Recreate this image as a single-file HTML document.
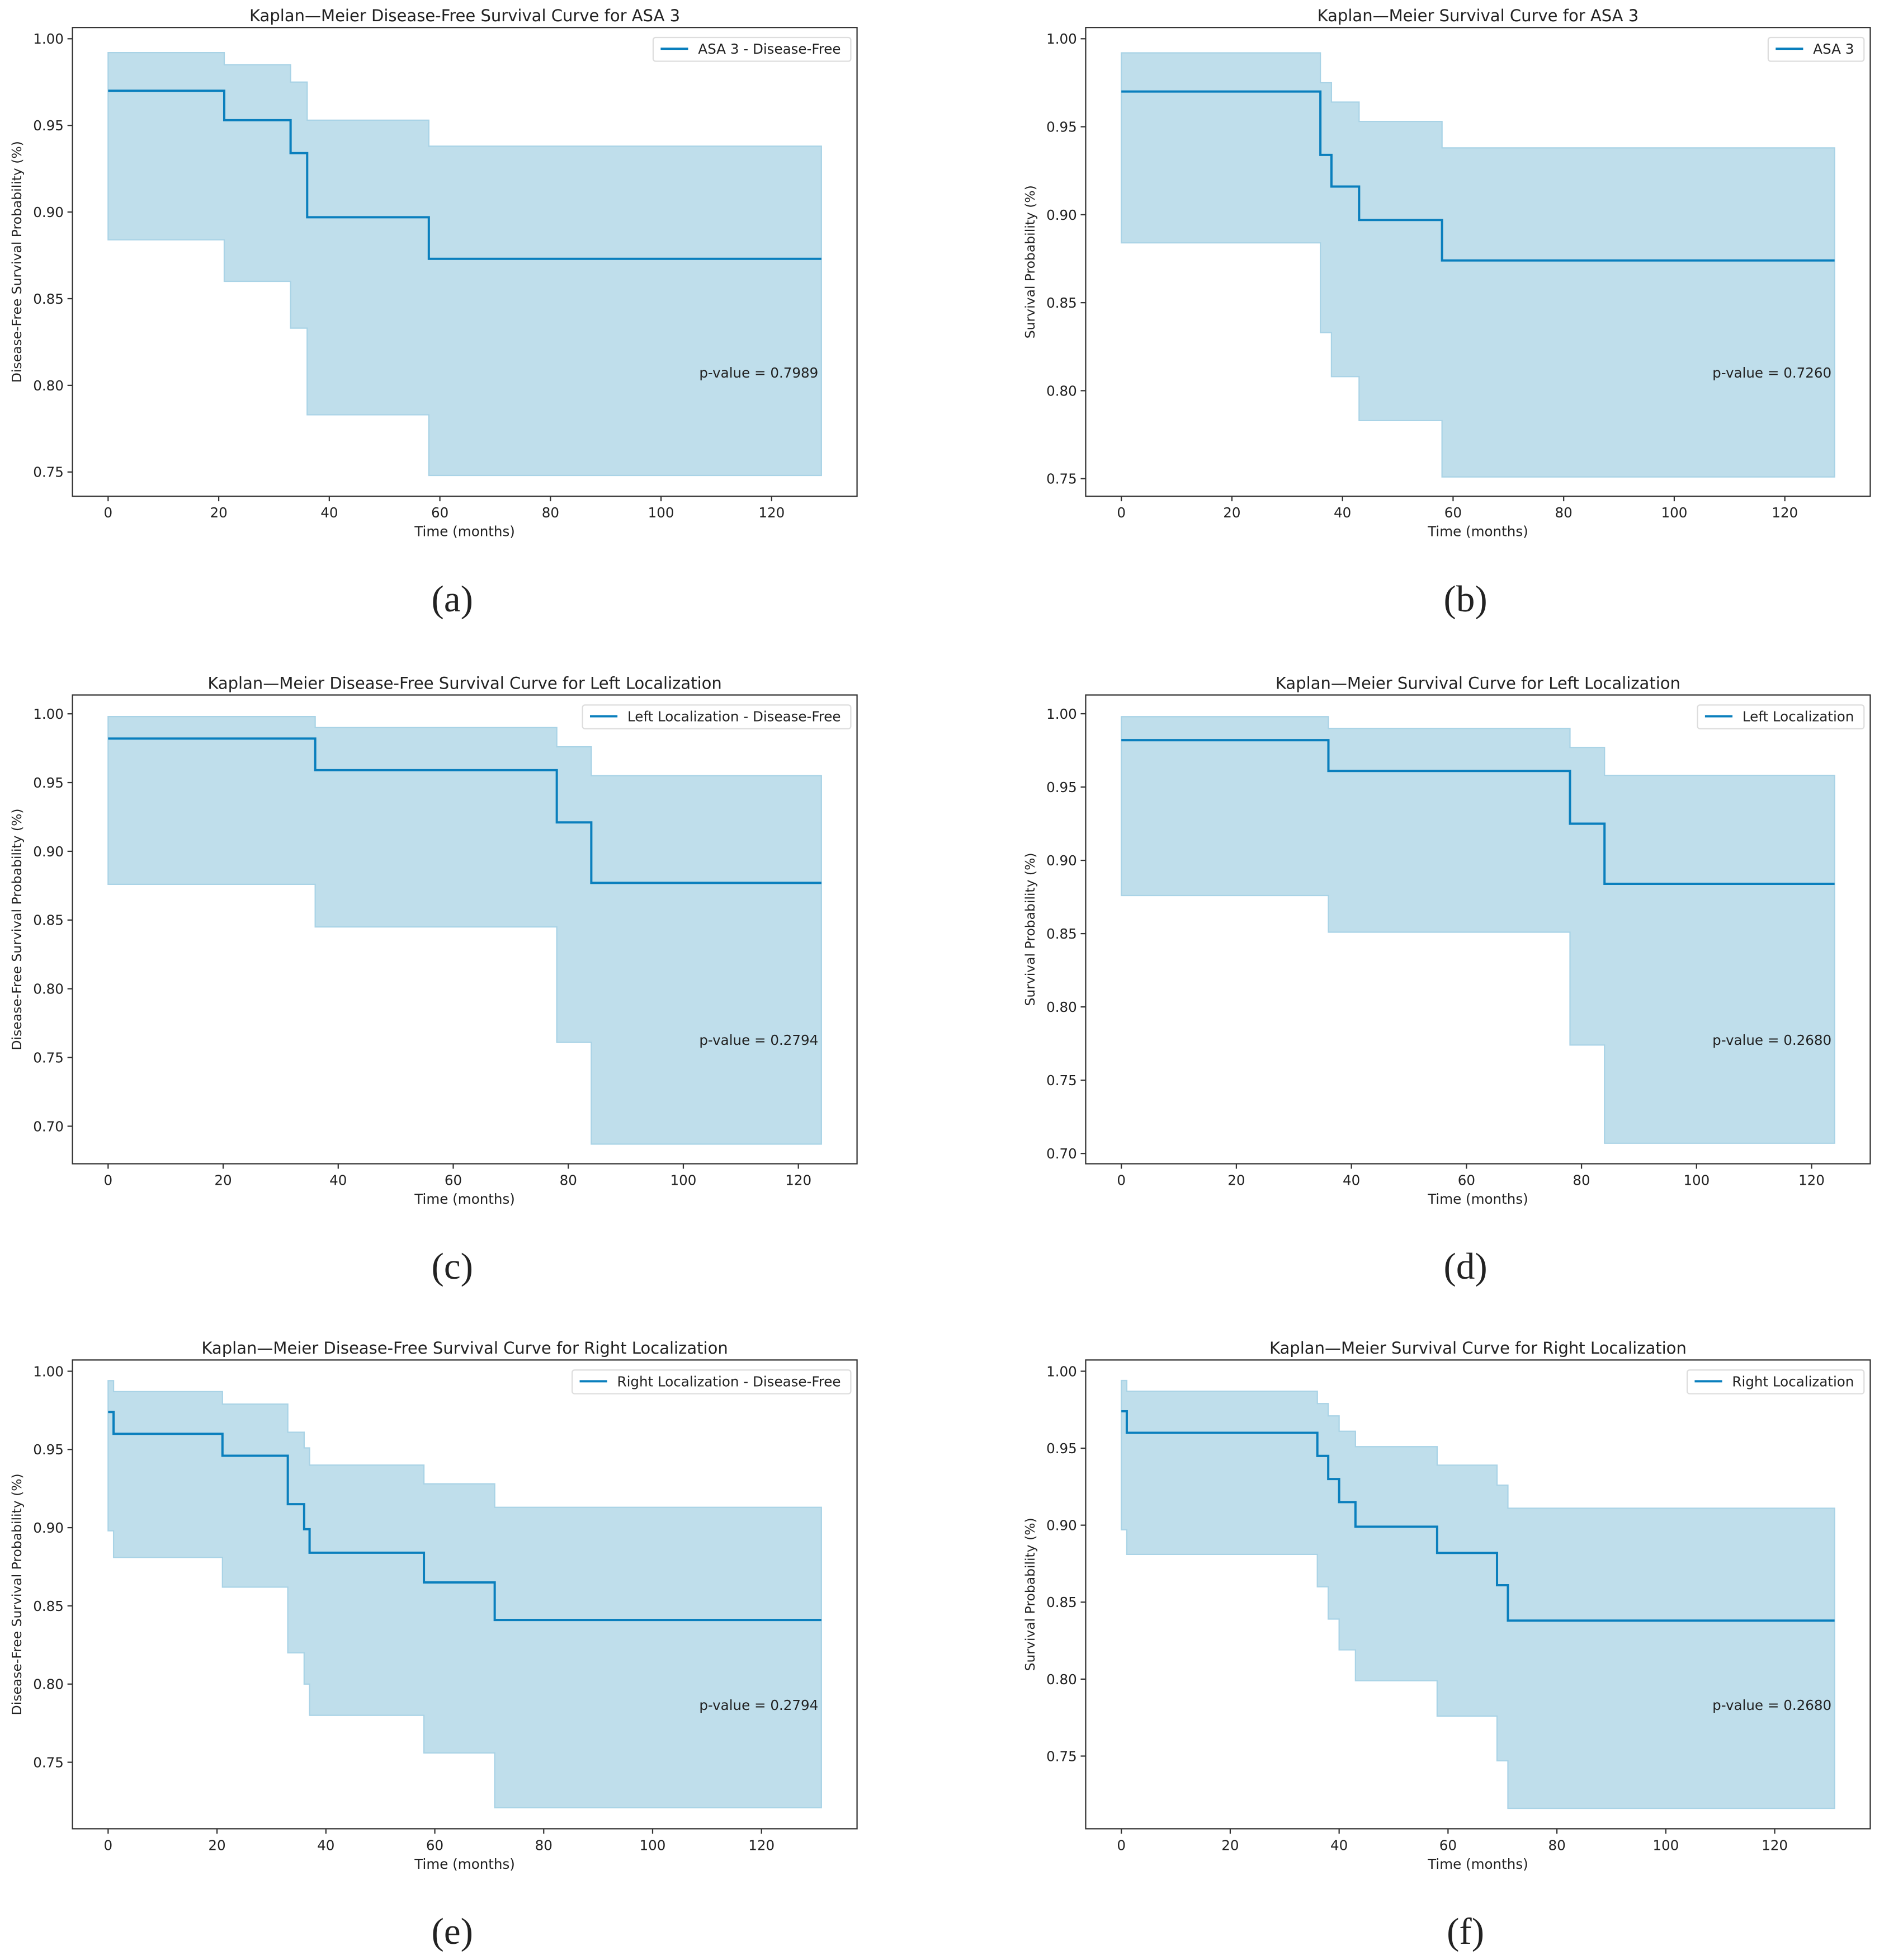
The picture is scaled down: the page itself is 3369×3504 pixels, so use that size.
<!DOCTYPE html>
<html><head><meta charset="utf-8"><style>
html,body{margin:0;padding:0;background:#fff}
svg{display:block}
text{font-family:"DejaVu Sans","Liberation Sans",sans-serif;fill:#222}
</style></head><body>
<svg id="fig" width="3369" height="3504" viewBox="0 0 1508 1568" preserveAspectRatio="none" xmlns="http://www.w3.org/2000/svg"></svg>
<script>
// ---- data ----
const timesA=[0,21,33,36,58,129];
const survA=[0.970,0.953,0.934,0.897,0.873];
const upA=[0.992,0.985,0.975,0.953,0.938];
const loA=[0.884,0.860,0.833,0.783,0.748];

const timesB=[0,36,38,43,58,129];
const survB=[0.970,0.934,0.916,0.897,0.874];
const upB=[0.992,0.975,0.964,0.953,0.938];
const loB=[0.884,0.833,0.808,0.783,0.751];

const timesC=[0,36,78,84,124];
const survC=[0.982,0.959,0.921,0.877];
const upC=[0.998,0.990,0.976,0.955];
const loC=[0.876,0.845,0.761,0.687];

const timesD=[0,36,78,84,124];
const survD=[0.982,0.961,0.925,0.884];
const upD=[0.998,0.990,0.977,0.958];
const loD=[0.876,0.851,0.774,0.707];

const timesE=[0,1,21,33,36,37,58,71,131];
const survE=[0.974,0.960,0.946,0.915,0.899,0.884,0.865,0.841];
const upE=[0.994,0.987,0.979,0.961,0.951,0.940,0.928,0.913];
const loE=[0.898,0.881,0.862,0.820,0.800,0.780,0.756,0.721];

const timesF=[0,1,36,38,40,43,58,69,71,131];
const survF=[0.974,0.960,0.945,0.930,0.915,0.899,0.882,0.861,0.838];
const upF=[0.994,0.987,0.979,0.971,0.961,0.951,0.939,0.926,0.911];
const loF=[0.897,0.881,0.860,0.839,0.819,0.799,0.776,0.747,0.716];

const xTicks=[0,20,40,60,80,100,120];
const yTicksAB=[0.75,0.80,0.85,0.90,0.95,1.00];
const yTicksCD=[0.70,0.75,0.80,0.85,0.90,0.95,1.00];
const yTicksEF=[0.75,0.80,0.85,0.90,0.95,1.00];

const pValues=["0.7989","0.7260","0.2794","0.2680","0.2794","0.2680"];

const panels=[
 {id:'a',x0:58,y0:22,times:timesA,surv:survA,up:upA,lo:loA,ymin:0.736,ymax:1.0065,yt:yTicksAB,title:"Kaplan\u2014Meier Disease-Free Survival Curve for ASA 3",leg:"ASA 3 - Disease-Free",yl:"Disease-Free Survival Probability (%)",p:pValues[0]},
 {id:'b',x0:869,y0:22,times:timesB,surv:survB,up:upB,lo:loB,ymin:0.740,ymax:1.0064,yt:yTicksAB,title:"Kaplan\u2014Meier Survival Curve for ASA 3",leg:"ASA 3",yl:"Survival Probability (%)",p:pValues[1]},
 {id:'c',x0:58,y0:556,times:timesC,surv:survC,up:upC,lo:loC,ymin:0.6727,ymax:1.0137,yt:yTicksCD,title:"Kaplan\u2014Meier Disease-Free Survival Curve for Left Localization",leg:"Left Localization - Disease-Free",yl:"Disease-Free Survival Probability (%)",p:pValues[2]},
 {id:'d',x0:869,y0:556,times:timesD,surv:survD,up:upD,lo:loD,ymin:0.693,ymax:1.0128,yt:yTicksCD,title:"Kaplan\u2014Meier Survival Curve for Left Localization",leg:"Left Localization",yl:"Survival Probability (%)",p:pValues[3]},
 {id:'e',x0:58,y0:1088,times:timesE,surv:survE,up:upE,lo:loE,ymin:0.7075,ymax:1.0072,yt:yTicksEF,title:"Kaplan\u2014Meier Disease-Free Survival Curve for Right Localization",leg:"Right Localization - Disease-Free",yl:"Disease-Free Survival Probability (%)",p:pValues[4]},
 {id:'f',x0:869,y0:1088,times:timesF,surv:survF,up:upF,lo:loF,ymin:0.7028,ymax:1.0073,yt:yTicksEF,title:"Kaplan\u2014Meier Survival Curve for Right Localization",leg:"Right Localization",yl:"Survival Probability (%)",p:pValues[5]}
];
const W=628,H=375,NS='http://www.w3.org/2000/svg';
const svg=document.getElementById('fig');
function mk(tag,attrs,parent){const e=document.createElementNS(NS,tag);for(const k in attrs)e.setAttribute(k,attrs[k]);(parent||svg).appendChild(e);return e;}
function stepPath(times,vals,sx,sy){let d='';for(let i=0;i<vals.length;i++){const xa=sx(times[i]),xb=sx(times[i+1]),y=sy(vals[i]);d+=(i===0?'M':'L')+xa+','+y+' L'+xb+','+y+' ';}return d;}
panels.forEach(P=>{
 const g=mk('g',{});
 
 
 const tmax=P.times[P.times.length-1];
 const xmin=-0.05*tmax,xmax=1.05*tmax;
 const sx=t=>P.x0+(t-xmin)/(xmax-xmin)*W;
 const sy=v=>P.y0+(P.ymax-v)/(P.ymax-P.ymin)*H;
 let top=[],bot=[];
 for(let i=0;i<P.up.length;i++){top.push(sx(P.times[i])+','+sy(P.up[i]),sx(P.times[i+1])+','+sy(P.up[i]));bot.push(sx(P.times[i])+','+sy(P.lo[i]),sx(P.times[i+1])+','+sy(P.lo[i]));}
 const band=mk('polygon',{points:top.concat(bot.reverse()).join(' '),fill:'#bfdeeb',stroke:'#a9d3e6','stroke-width':1},g);
 
 
 const line=mk('path',{d:stepPath(P.times,P.surv,sx,sy),fill:'none',stroke:'#0a7fbd','stroke-width':1.8},g);
 
 
 const fr=mk('rect',{x:P.x0,y:P.y0,width:W,height:H,fill:'none',stroke:'#333','stroke-width':1},g);
 
 
 xTicks.forEach(t=>{const x=sx(t);mk('line',{x1:x,x2:x,y1:P.y0+H,y2:P.y0+H+4,stroke:'#333'},g);
  const tx=mk('text',{x:x,y:P.y0+H+17,'font-size':11,'text-anchor':'middle'},g);tx.textContent=t;
  
  });
 P.yt.forEach(v=>{const y=sy(v);mk('line',{x1:P.x0-4,x2:P.x0,y1:y,y2:y,stroke:'#333'},g);
  const tx=mk('text',{x:P.x0-7,y:y+4,'font-size':11,'text-anchor':'end'},g);tx.textContent=v.toFixed(2);
  
  });
 const ti=mk('text',{x:P.x0+W/2,y:P.y0-5,'font-size':13,'text-anchor':'middle'},g);ti.textContent=P.title;
 
 
 const xl=mk('text',{x:P.x0+W/2,y:P.y0+H+32,'font-size':11,'text-anchor':'middle'},g);xl.textContent='Time (months)';
 
 
 const yx=P.x0-41,yy=P.y0+H/2;
 const yl=mk('text',{x:yx,y:yy,'font-size':10.5,'text-anchor':'middle',transform:'rotate(-90 '+yx+' '+yy+')'},g);yl.textContent=P.yl;
 
 
 const pv=mk('text',{x:P.x0+W-31,y:P.y0+280,'font-size':11,'text-anchor':'end'},g);pv.textContent='p-value = '+P.p;
 
 
 const lg=mk('g',{},g);
 
 
 const lt=mk('text',{x:0,y:P.y0+21,'font-size':11},lg);lt.textContent=P.leg;
 const tw=lt.getComputedTextLength();
 const right=P.x0+W-5, bw=tw+44, bx=right-bw;
 const box=mk('rect',{x:bx,y:P.y0+8,width:bw,height:19,rx:2,fill:'#fff',stroke:'#ddd'},lg);
 lg.insertBefore(box,lt);
 lt.setAttribute('x',bx+36);
 mk('line',{x1:bx+6,x2:bx+28,y1:P.y0+17,y2:P.y0+17,stroke:'#0a7fbd','stroke-width':1.8},lg);
 const lb=mk('text',{x:P.x0+304,y:P.y0+467,'font-size':30,'text-anchor':'middle',style:'font-family:"Liberation Serif",serif'},g);
 lb.textContent='('+P.id+')';
 
 
});
</script>
</body></html>
